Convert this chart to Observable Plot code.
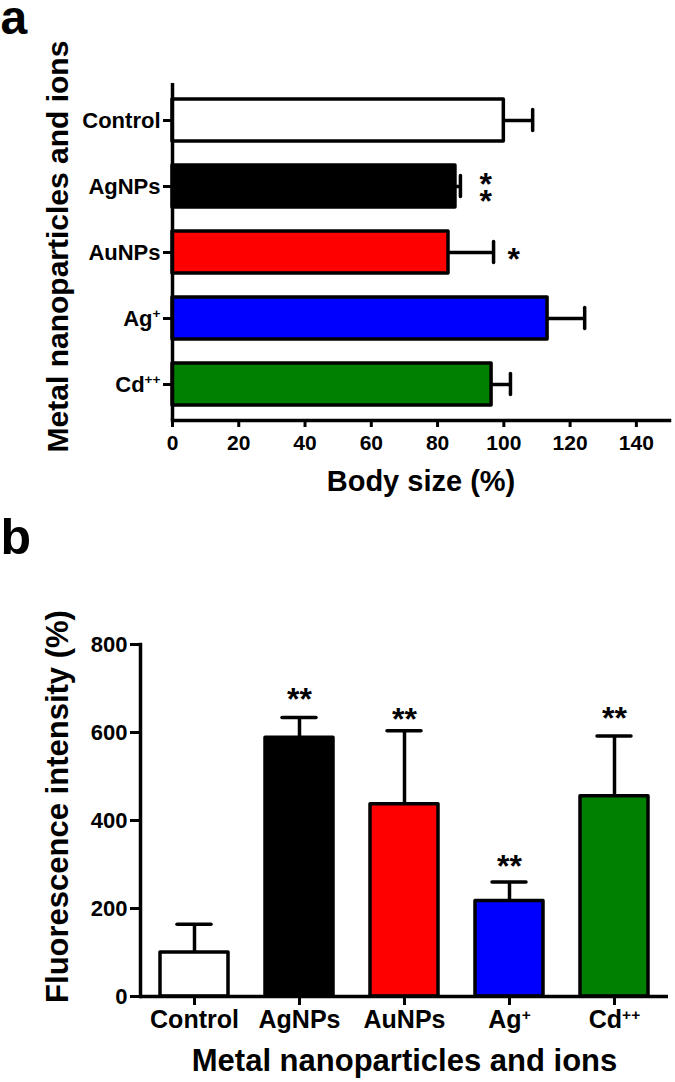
<!DOCTYPE html>
<html><head><meta charset="utf-8">
<script src="https://cdn.jsdelivr.net/npm/d3@7"></script>
<script src="https://cdn.jsdelivr.net/npm/@observablehq/plot@0.6"></script>
<style>
body{margin:0;background:#fff;}
#chart{width:675px;height:1082px;overflow:hidden;}
#chart svg{display:block;}
</style></head><body><div id="chart"></div>
<script>
// ---- data ----
const categories = ["Control", "AgNPs", "AuNPs", "Ag+", "Cd++"];
const colors = ["#ffffff", "#000000", "#ff0000", "#0000ff", "#008000"];
// panel a: body size (%)
const bodySize = [100, 85.4, 83.3, 113.2, 96.3];
const bodySizeSD = [8.7, 1.5, 13.6, 11.2, 5.7];
const bodyTicks = [0, 20, 40, 60, 80, 100, 120, 140];
const bodyStarCats = ["AgNPs", "AuNPs"];
const bodyStarX = [94.5, 103];
const bodyStarLabels = ["*\n*", "*"];
// panel b: fluorescence intensity (%)
const fluor = [100, 588, 437, 217, 455];
const fluorSD = [64, 46, 167, 43, 137];
const fluorTicks = [0, 200, 400, 600, 800];
const fluorStarCats = ["AgNPs", "AuNPs", "Ag+", "Cd++"];
const fluorStarY = [693, 648, 314, 650];
const fluorStarLabels = ["**", "**", "**", "**"];

const tableA = categories.map((c, i) => ({cat: c, value: bodySize[i], sd: bodySizeSD[i], color: colors[i]}));
const tableB = categories.map((c, i) => ({cat: c, value: fluor[i], sd: fluorSD[i], color: colors[i]}));
const starsA = bodyStarCats.map((c, i) => ({cat: c, x: bodyStarX[i], label: bodyStarLabels[i]}));
const starsB = fluorStarCats.map((c, i) => ({cat: c, y: fluorStarY[i], label: fluorStarLabels[i]}));

const font = "'Liberation Sans', Arial, Helvetica, sans-serif";
const baseStyle = {fontFamily: font, fontWeight: "bold", fontSize: "21px", color: "black", background: "white", overflow: "visible"};
const SW = 3.5;

const plotA = Plot.plot({
  width: 675, height: 500,
  marginTop: 83, marginBottom: 80, marginLeft: 172, marginRight: 6,
  style: baseStyle,
  x: {domain: [0, 150]},
  y: {domain: categories, paddingInner: 0.37, paddingOuter: 0.22},
  color: {type: "identity"},
  marks: [
    Plot.ruleY(tableA, {y: "cat", x1: "value", x2: d => d.value + d.sd, strokeWidth: SW}),
    Plot.tickX(tableA, {y: "cat", x: d => d.value + d.sd, strokeWidth: SW, insetTop: 10.5, insetBottom: 10.5, strokeLinecap: "round"}),
    Plot.barX(tableA, {y: "cat", x: "value", fill: "color", stroke: "black", strokeWidth: SW, strokeLinejoin: "round"}),
    Plot.ruleX([0], {strokeWidth: SW}),
    Plot.frame({anchor: "bottom", strokeWidth: SW}),
    Plot.axisX({ticks: bodyTicks, tickSize: 7, tickPadding: 8, fontSize: 21, strokeWidth: 3, label: null}),
    Plot.axisY({tickSize: 9, tickPadding: 3, fontSize: 22, strokeWidth: 3, label: null}),
    Plot.text(starsA, {x: "x", y: "cat", text: "label", fontSize: 32, lineHeight: 0.53, dy: 12}),
    Plot.text(["Body size (%)"], {frameAnchor: "bottom", lineAnchor: "bottom", dy: 70, fontSize: 29}),
    Plot.text(["Metal nanoparticles and ions"], {frameAnchor: "left", textAnchor: "middle", rotate: -90, dx: -114, dy: -5.5, fontSize: 30}),
    Plot.text(["a"], {frameAnchor: "top-left", textAnchor: "start", lineAnchor: "bottom", dx: -172, dy: -50, fontSize: 48})
  ]
});

const plotB = Plot.plot({
  width: 675, height: 582,
  marginTop: 144, marginBottom: 86, marginLeft: 140, marginRight: 7,
  style: baseStyle,
  x: {domain: categories, paddingInner: 0.356, paddingOuter: 0.175},
  y: {domain: [0, 800]},
  color: {type: "identity"},
  marks: [
    Plot.ruleX(tableB, {x: "cat", y1: "value", y2: d => d.value + d.sd, strokeWidth: SW}),
    Plot.tickY(tableB, {x: "cat", y: d => d.value + d.sd, strokeWidth: SW, insetLeft: 17, insetRight: 17, strokeLinecap: "round"}),
    Plot.barY(tableB, {x: "cat", y: "value", fill: "color", stroke: "black", strokeWidth: SW, strokeLinejoin: "round"}),
    Plot.ruleY([0], {strokeWidth: SW}),
    Plot.frame({anchor: "left", strokeWidth: SW}),
    Plot.axisY({ticks: fluorTicks, tickSize: 10, tickPadding: 3, fontSize: 22, strokeWidth: 3, label: null}),
    Plot.axisX({tickSize: 9, tickPadding: 5, fontSize: 25, strokeWidth: 3, label: null}),
    Plot.text(starsB, {x: "cat", y: "y", text: "label", fontSize: 32, dy: 8}),
    Plot.text(["Fluorescence intensity (%)"], {frameAnchor: "left", textAnchor: "middle", rotate: -90, dx: -82, dy: -14, fontSize: 31}),
    Plot.text(["Metal nanoparticles and ions"], {frameAnchor: "bottom", lineAnchor: "bottom", dy: 74, fontSize: 31}),
    Plot.text(["b"], {frameAnchor: "top-left", textAnchor: "start", lineAnchor: "bottom", dx: -140, dy: -91, fontSize: 50})
  ]
});

function superscripts(svg) {
  d3.select(svg).selectAll("text").each(function() {
    if (this.childElementCount !== 0) return;
    const m = (this.textContent || "").match(/^(Ag|Cd)(\++)$/);
    if (!m) return;
    const t = d3.select(this);
    t.text(m[1]);
    t.append("tspan").attr("dy", "-0.55em").attr("font-size", "0.62em").text(m[2]);
  });
}
superscripts(plotA);
superscripts(plotB);

document.getElementById("chart").append(plotA, plotB);
</script>
</body></html>
